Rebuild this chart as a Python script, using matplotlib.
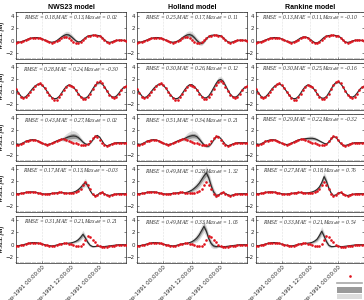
import numpy as np
import pandas as pd
import matplotlib
matplotlib.use("Agg")
import matplotlib.pyplot as plt
import matplotlib.dates as mdates
from matplotlib.lines import Line2D
from matplotlib.patches import Patch

# ---------------- data ----------------
times = pd.date_range("1991-09-26 13:00", periods=47, freq="h")
xticks = pd.to_datetime(["1991-09-27 00:00", "1991-09-27 12:00", "1991-09-28 00:00"])
models = ["NWS23 model", "Holland model", "Rankine model"]

obs1 = [-0.30,-0.28,-0.20,-0.08,0.08,0.25,0.38,0.47,0.52,0.50,0.42,0.28,0.10,-0.10,-0.25,-0.30,-0.25,-0.10,0.15,0.40,
        0.55,0.55,0.40,0.15,-0.15,-0.38,-0.40,-0.20,0.15,0.50,0.72,0.82,0.85,0.85,0.82,0.75,0.50,0.10,-0.22,-0.30,
        -0.20,-0.05,0.05,0.10,0.10,0.05,0.00]
obs2 = [0.50,-0.20,-0.80,-1.00,-0.90,-0.50,0.00,0.50,1.00,1.30,1.35,1.10,0.60,0.00,-0.60,-1.10,-1.35,-1.30,-0.90,-0.30,
        0.30,0.80,1.05,1.00,0.70,0.20,-0.40,-0.90,-1.20,-1.20,-0.90,-0.30,0.40,1.10,1.60,1.70,1.40,0.80,0.10,-0.50,
        -0.90,-1.00,-0.80,-0.30,0.30,0.70,0.90]
obs3 = [-0.30,-0.30,-0.20,0.00,0.20,0.35,0.45,0.50,0.45,0.30,0.10,-0.10,-0.25,-0.30,-0.25,-0.10,0.10,0.30,0.45,0.55,
        0.55,0.45,0.30,0.15,0.00,-0.10,-0.20,-0.30,-0.35,-0.35,-0.20,0.20,0.70,1.10,1.00,0.50,0.00,-0.40,-0.50,-0.40,
        -0.20,-0.10,0.00,0.00,0.00,0.00,0.00]
obs4 = [0.00,0.00,0.05,0.10,0.20,0.28,0.30,0.30,0.25,0.15,0.05,0.00,-0.05,-0.05,0.00,0.05,0.10,0.15,0.20,0.20,
        0.15,0.10,0.05,0.05,0.10,0.20,0.40,0.80,1.40,1.90,1.50,0.70,0.00,-0.30,-0.20,0.10,0.20,0.00,-0.25,-0.30,
        -0.20,-0.10,-0.05,0.00,0.00,0.00,0.00]
obs5 = [-0.20,-0.15,-0.10,0.00,0.10,0.20,0.30,0.35,0.35,0.30,0.20,0.10,0.00,-0.10,-0.15,-0.20,-0.15,-0.05,0.05,0.15,
        0.20,0.20,0.15,0.05,-0.05,-0.15,-0.20,-0.25,0.10,0.80,1.40,1.20,0.80,0.40,0.00,-0.25,-0.35,-0.35,-0.30,-0.25,
        -0.20,-0.15,-0.10,-0.05,0.00,0.00,0.00]

m11 = [-0.30,-0.27,-0.18,-0.05,0.10,0.27,0.40,0.48,0.52,0.50,0.42,0.28,0.10,-0.08,-0.20,-0.25,-0.18,0.00,0.30,0.60,
       0.85,1.00,0.95,0.70,0.35,0.00,-0.20,-0.15,0.15,0.50,0.75,0.85,0.90,0.90,0.88,0.80,0.55,0.15,-0.18,-0.28,
       -0.20,-0.05,0.05,0.10,0.10,0.05,0.00]
m12 = [-0.30,-0.27,-0.18,-0.05,0.10,0.27,0.40,0.48,0.52,0.50,0.42,0.28,0.10,-0.08,-0.20,-0.25,-0.20,-0.05,0.20,0.50,
       0.75,0.95,1.00,0.85,0.50,0.05,-0.30,-0.45,-0.20,0.30,0.70,0.88,0.92,0.90,0.88,0.80,0.55,0.15,-0.18,-0.28,
       -0.20,-0.05,0.05,0.10,0.10,0.05,0.00]
m13 = [-0.30,-0.27,-0.18,-0.05,0.10,0.27,0.40,0.48,0.52,0.50,0.42,0.28,0.10,-0.08,-0.22,-0.27,-0.22,-0.05,0.20,0.45,
       0.60,0.62,0.50,0.25,-0.05,-0.30,-0.35,-0.15,0.20,0.55,0.75,0.85,0.88,0.88,0.85,0.78,0.52,0.12,-0.20,-0.28,
       -0.20,-0.05,0.05,0.10,0.10,0.05,0.00]

m21 = [0.45,-0.15,-0.70,-0.95,-0.85,-0.45,0.05,0.55,0.95,1.20,1.25,1.05,0.60,0.05,-0.50,-0.95,-1.15,-1.10,-0.80,-0.25,
       0.35,0.85,1.10,1.05,0.75,0.25,-0.30,-0.80,-1.05,-1.05,-0.80,-0.25,0.40,1.00,1.40,1.50,1.30,0.80,0.15,-0.45,
       -0.80,-0.90,-0.70,-0.25,0.30,0.70,0.85]
m22 = [0.45,-0.15,-0.70,-0.95,-0.85,-0.45,0.05,0.55,0.95,1.20,1.25,1.05,0.60,0.05,-0.50,-0.95,-1.15,-1.10,-0.80,-0.25,
       0.35,0.85,1.15,1.15,0.85,0.35,-0.20,-0.70,-1.00,-1.00,-0.70,-0.10,0.60,1.30,1.85,2.00,1.70,1.00,0.25,-0.40,
       -0.80,-0.90,-0.70,-0.25,0.30,0.70,0.85]
m23 = [0.45,-0.15,-0.70,-0.95,-0.85,-0.45,0.05,0.55,0.95,1.20,1.25,1.05,0.60,0.05,-0.50,-0.95,-1.15,-1.10,-0.80,-0.25,
       0.35,0.85,1.10,1.05,0.75,0.25,-0.30,-0.80,-1.05,-1.05,-0.80,-0.20,0.45,1.10,1.50,1.60,1.35,0.80,0.15,-0.45,
       -0.80,-0.90,-0.70,-0.25,0.30,0.70,0.85]

m31 = [-0.30,-0.30,-0.20,0.00,0.20,0.35,0.45,0.50,0.45,0.30,0.10,-0.10,-0.25,-0.30,-0.25,-0.10,0.10,0.30,0.45,0.55,
       0.65,0.80,0.95,1.05,1.10,1.05,0.85,0.50,0.10,-0.20,-0.30,-0.10,0.40,0.95,1.20,0.90,0.30,-0.30,-0.50,-0.40,
       -0.20,-0.10,0.00,0.00,0.00,0.00,0.00]
m32 = [-0.30,-0.30,-0.20,0.00,0.20,0.35,0.45,0.50,0.45,0.30,0.10,-0.10,-0.25,-0.30,-0.25,-0.10,0.10,0.30,0.45,0.55,
       0.70,0.90,1.05,1.15,1.15,1.00,0.60,0.10,-0.35,-0.60,-0.55,-0.20,0.40,0.90,1.05,0.70,0.20,-0.30,-0.50,-0.40,
       -0.20,-0.10,0.00,0.00,0.00,0.00,0.00]
m33 = [-0.30,-0.30,-0.20,0.00,0.20,0.35,0.45,0.50,0.45,0.30,0.10,-0.10,-0.25,-0.30,-0.25,-0.10,0.10,0.30,0.45,0.55,
       0.60,0.65,0.70,0.72,0.72,0.65,0.50,0.30,0.10,-0.10,-0.20,0.10,0.60,1.00,0.90,0.40,-0.10,-0.45,-0.45,-0.35,
       -0.20,-0.10,0.00,0.00,0.00,0.00,0.00]

head4 = [0.00,0.00,0.05,0.10,0.20,0.28,0.30,0.30,0.25,0.15,0.05,0.00,-0.05,-0.05,0.00,0.05,0.10,0.15,0.20,0.20,0.15]
m41 = head4 + [0.10,0.10,0.15,0.25,0.40,0.65,1.00,1.45,1.85,1.30,0.50,-0.10,-0.35,-0.20,0.10,0.20,0.00,-0.25,-0.30,
               -0.20,-0.10,-0.05,0.00,0.00,0.00,0.00]
m42 = head4 + [0.25,0.40,0.60,0.90,1.25,1.70,2.30,2.90,3.40,2.60,1.30,0.30,-0.25,-0.25,0.05,0.20,0.05,-0.20,-0.30,
               -0.20,-0.10,-0.05,0.00,0.00,0.00,0.00]
m43 = head4 + [0.12,0.15,0.20,0.30,0.45,0.70,1.10,1.80,2.80,2.00,0.90,0.10,-0.30,-0.20,0.10,0.20,0.00,-0.25,-0.30,
               -0.20,-0.10,-0.05,0.00,0.00,0.00,0.00]

head5 = [-0.20,-0.15,-0.10,0.00,0.10,0.20,0.30,0.35,0.35,0.30,0.20,0.10,0.00,-0.10,-0.15,-0.20,-0.15,-0.05,0.05,0.15,0.20]
m51 = head5 + [0.22,0.25,0.30,0.40,0.55,0.80,1.20,1.70,1.10,0.40,-0.10,-0.30,-0.30,-0.25,-0.25,-0.30,-0.30,-0.25,
               -0.20,-0.15,-0.10,-0.05,0.00,0.00,0.00,0.00]
m52 = head5 + [0.25,0.35,0.50,0.75,1.10,1.60,2.30,3.00,2.20,1.00,0.20,-0.20,-0.30,-0.30,-0.30,-0.30,-0.30,-0.25,
               -0.20,-0.15,-0.10,-0.05,0.00,0.00,0.00,0.00]
m53 = head5 + [0.22,0.25,0.30,0.40,0.60,0.90,1.50,2.20,1.40,0.50,-0.10,-0.30,-0.30,-0.25,-0.25,-0.30,-0.30,-0.25,
               -0.20,-0.15,-0.10,-0.05,0.00,0.00,0.00,0.00]

# ensemble spread (half-width of inner band): base level, start index, local values
s11 = (0.04, 17, [0.08,0.12,0.18,0.22,0.25,0.25,0.22,0.18,0.12,0.08])
s12 = (0.05, 18, [0.10,0.15,0.20,0.25,0.28,0.28,0.25,0.22,0.20,0.15,0.10,0.08])
s13 = (0.04, 18, [0.06,0.08,0.08,0.06])
s21 = (0.05, 32, [0.08,0.10,0.12,0.12,0.10,0.08])
s22 = (0.06, 31, [0.10,0.15,0.20,0.25,0.25,0.20,0.15,0.10])
s23 = (0.05, 32, [0.08,0.10,0.10,0.10,0.08])
s31 = (0.05, 19, [0.10,0.20,0.30,0.35,0.40,0.40,0.35,0.30,0.20,0.15,0.10,0.10])
s32 = (0.05, 19, [0.10,0.20,0.30,0.35,0.35,0.35,0.30,0.25,0.20,0.15,0.10,0.10])
s33 = (0.05, 20, [0.10,0.12,0.15,0.18,0.18,0.15,0.12,0.10,0.08])
s41 = (0.04, 25, [0.10,0.15,0.20,0.25,0.30,0.20,0.10])
s42 = (0.05, 22, [0.15,0.20,0.25,0.30,0.35,0.40,0.45,0.50,0.45,0.40,0.30,0.20])
s43 = (0.04, 25, [0.10,0.15,0.20,0.30,0.35,0.30,0.20,0.10])
s51 = (0.04, 24, [0.08,0.12,0.18,0.25,0.30,0.25,0.18,0.12,0.08])
s52 = (0.05, 23, [0.15,0.20,0.30,0.35,0.40,0.45,0.40,0.35,0.30,0.20,0.15])
s53 = (0.04, 24, [0.10,0.15,0.20,0.30,0.35,0.30,0.25,0.15,0.10])

rmse = [[0.18, 0.25, 0.13], [0.28, 0.30, 0.30], [0.43, 0.51, 0.29], [0.17, 0.49, 0.27], [0.31, 0.49, 0.33]]
mae  = [[0.13, 0.17, 0.11], [0.24, 0.26, 0.25], [0.27, 0.34, 0.22], [0.13, 0.28, 0.18], [0.21, 0.33, 0.21]]
maxd = [[0.02, 0.11, -0.10], [-0.30, 0.12, -0.16], [0.02, 0.21, -0.32], [-0.03, 1.32, 0.76], [0.21, 1.05, 0.54]]

observed = [obs1, obs2, obs3, obs4, obs5]
model_vals = [[m11, m12, m13], [m21, m22, m23], [m31, m32, m33], [m41, m42, m43], [m51, m52, m53]]
spreads = [[s11, s12, s13], [s21, s22, s23], [s31, s32, s33], [s41, s42, s43], [s51, s52, s53]]


def band(spec, n):
    base, start, vals = spec
    arr = np.full(n, base)
    arr[start:start + len(vals)] = vals
    return arr

# ---------------- figure ----------------
W, H = 364, 300
fig = plt.figure(figsize=(W / 100, H / 100), dpi=100)

col_left = [16, 137, 256]
col_w = [110, 110, 108]
row_top = [12, 63, 114, 165, 216]
row_h = 47

serif = "Liberation Serif"
red = "#e0141e"

for r in range(5):
    for c in range(3):
        ax = fig.add_axes([col_left[c] / W, 1 - (row_top[r] + row_h) / H, col_w[c] / W, row_h / H])
        y = np.array(model_vals[r][c])
        s = band(spreads[r][c], len(y))
        ax.fill_between(times, y - 2.2 * s, y + 2.2 * s, color="#dcdcdc", lw=0, zorder=1)
        ax.fill_between(times, y - s, y + s, color="#9a9a9a", lw=0, zorder=2)
        ax.plot(times, y, color="#2a2a2a", lw=0.8, zorder=3)
        ax.plot(times, observed[r], "o", color=red, ms=1.9, mew=0, zorder=4)
        ax.set_xlim(times[0], times[-1])
        ax.set_ylim(-3, 4.7)
        ax.set_yticks([-2, 0, 2, 4])
        ax.set_xticks(xticks)
        ax.xaxis.set_minor_locator(mdates.HourLocator())
        ax.grid(axis="x", which="major", color="#c8c8c8", lw=0.4, ls=":")
        ax.tick_params(axis="both", which="both", direction="in", top=True, right=True,
                       labelsize=4, length=1.5, width=0.4, pad=1.5, colors="#262626")
        ax.tick_params(axis="x", which="minor", length=1.0, width=0.3)
        for sp in ax.spines.values():
            sp.set_linewidth(0.5)
            sp.set_color("#262626")
        if r == 4:
            ax.xaxis.set_major_formatter(mdates.DateFormatter("%d-%b-%Y %H:%M:%S"))
            for lab in ax.get_xticklabels():
                lab.set_rotation(45)
                lab.set_ha("right")
                lab.set_rotation_mode("anchor")
        else:
            ax.set_xticklabels([])
        if c == 0:
            ax.set_ylabel("WSEL [m]", fontsize=4.5, family=serif, style="italic", fontweight="bold", labelpad=1)
        if r == 0:
            ax.set_title(models[c], fontsize=5, fontweight="bold", family="Liberation Sans", pad=2)
        txt = (f"RMSE = {rmse[r][c]:.2f},MAE = {mae[r][c]:.2f},"
               f"Max$_{{diff}}$ = {maxd[r][c]:.2f}")
        ax.text(0.5, 0.88, txt, transform=ax.transAxes, ha="center", va="center",
                fontsize=4, family=serif, style="italic", color="#333333")

handles = [Line2D([], [], ls="none", marker="o", color=red, ms=1.9, mew=0),
           Line2D([], [], color="#a8a8a8", lw=1.2),
           Patch(facecolor="#9a9a9a", edgecolor="none"),
           Patch(facecolor="#dcdcdc", edgecolor="none")]
labels = ["Observed", "Ensemble mean", "Ensemble 25-75%", "Ensemble 5-95%"]
fig.legend(handles, labels, loc="upper left", bbox_to_anchor=(337 / W, 1 - 274 / H),
           frameon=False, fontsize=4, handlelength=4.5, handleheight=1.2, labelspacing=0.15,
           borderpad=0, borderaxespad=0, handletextpad=0.5)

fig.savefig("out.png", dpi=100)
